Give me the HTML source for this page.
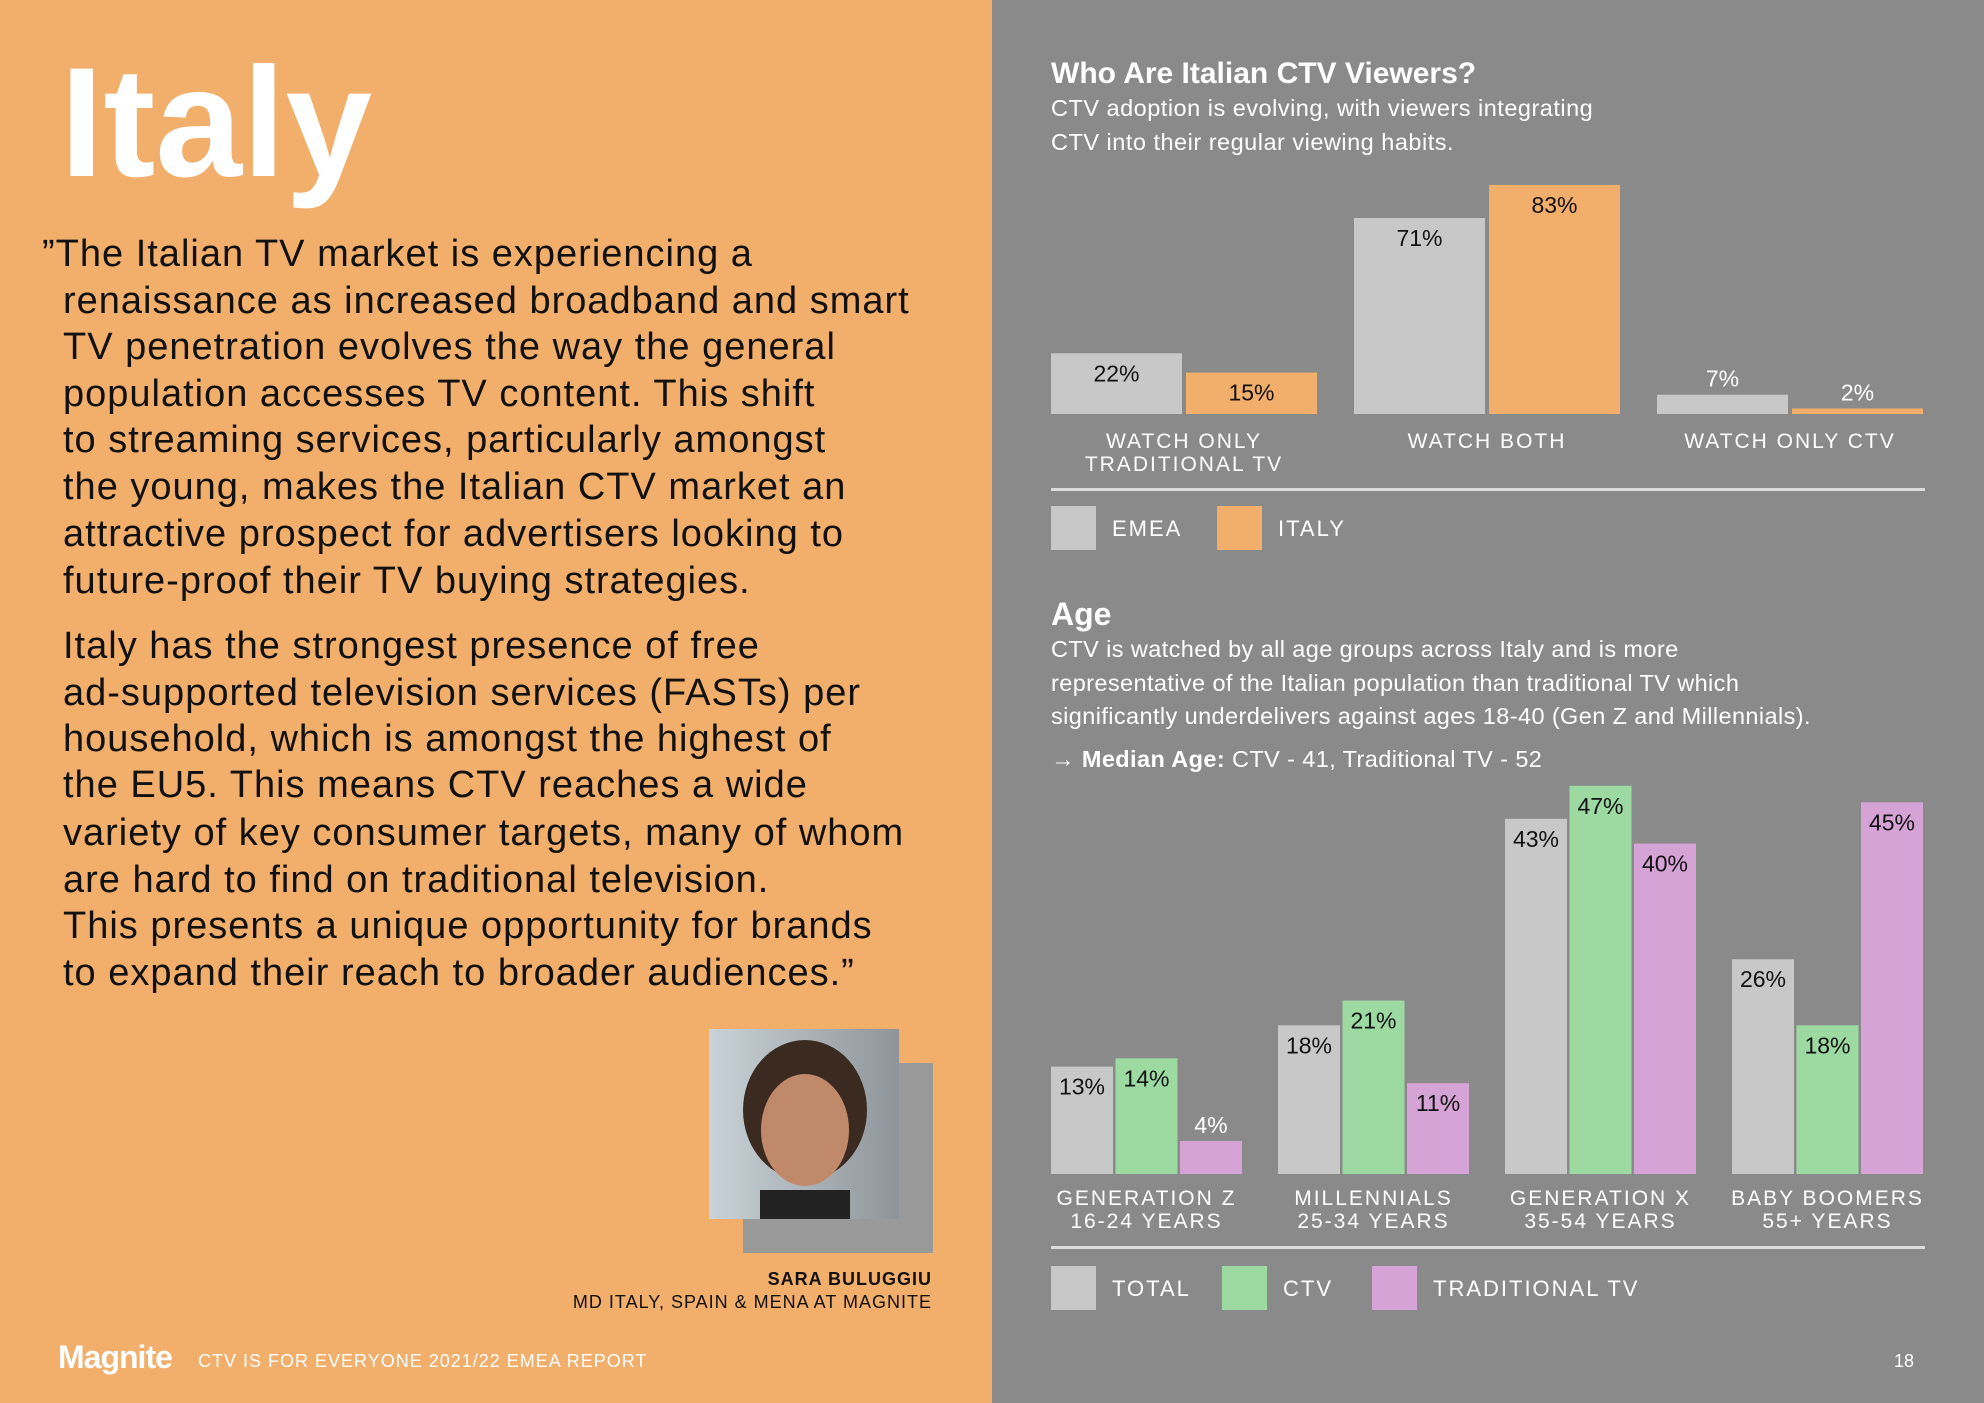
<!DOCTYPE html>
<html><head><meta charset="utf-8"><style>
html,body{margin:0;padding:0;width:1984px;height:1403px;overflow:hidden;}
svg{display:block;font-family:"Liberation Sans",sans-serif;}
</style></head><body>
<svg id="page" width="1984" height="1403" viewBox="0 0 1984 1403">
<rect x="0" y="0" width="992" height="1403" fill="#f2ae6b"/>
<rect x="992" y="0" width="992" height="1403" fill="#8a8a8a"/>
<text x="60" y="176" font-size="156" font-weight="bold" fill="#fff" letter-spacing="0">Italy</text>
<g font-size="38" fill="#111" letter-spacing="1">
<text x="42" y="266">”The Italian TV market is experiencing a</text>
<text x="63" y="313">renaissance as increased broadband and smart</text>
<text x="63" y="359">TV penetration evolves the way the general</text>
<text x="63" y="406">population accesses TV content. This shift</text>
<text x="63" y="452">to streaming services, particularly amongst</text>
<text x="63" y="499">the young, makes the Italian CTV market an</text>
<text x="63" y="546">attractive prospect for advertisers looking to</text>
<text x="63" y="593">future-proof their TV buying strategies.</text>
<text x="63" y="658">Italy has the strongest presence of free</text>
<text x="63" y="705">ad-supported television services (FASTs) per</text>
<text x="63" y="751">household, which is amongst the highest of</text>
<text x="63" y="797">the EU5. This means CTV reaches a wide</text>
<text x="63" y="845">variety of key consumer targets, many of whom</text>
<text x="63" y="892">are hard to find on traditional television.</text>
<text x="63" y="938">This presents a unique opportunity for brands</text>
<text x="63" y="985">to expand their reach to broader audiences.”</text>
</g>
<rect x="743" y="1063" width="190" height="190" fill="#9a9a9a"/>
<defs><linearGradient id="pbg" x1="0" x2="1"><stop offset="0" stop-color="#c9d3d8"/><stop offset="1" stop-color="#8e959a"/></linearGradient></defs>
<g>
<rect x="709" y="1029" width="190" height="190" fill="url(#pbg)"/>
<ellipse cx="805" cy="1110" rx="62" ry="70" fill="#3a2a20"/>
<ellipse cx="805" cy="1130" rx="44" ry="56" fill="#c08a6a"/>
<rect x="760" y="1190" width="90" height="29" fill="#222"/>
</g>
<text x="932" y="1285" font-size="18" font-weight="bold" text-anchor="end" fill="#111" letter-spacing="1">SARA BULUGGIU</text>
<text x="932" y="1308" font-size="18" text-anchor="end" fill="#111" letter-spacing="1">MD ITALY, SPAIN &amp; MENA AT MAGNITE</text>
<text x="58" y="1368" font-size="32" font-weight="bold" fill="#fff" letter-spacing="-1">Magnite</text>
<text x="198" y="1367" font-size="18" fill="#fff" letter-spacing="1">CTV IS FOR EVERYONE 2021/22 EMEA REPORT</text>
<text x="1914" y="1367" font-size="18" fill="#fff" text-anchor="end">18</text>

<text x="1051" y="83" font-size="30" font-weight="bold" fill="#fff">Who Are Italian CTV Viewers?</text>
<text x="1051" y="116" font-size="23.5" fill="#fff" letter-spacing="0.5">CTV adoption is evolving, with viewers integrating</text>
<text x="1051" y="150" font-size="23.5" fill="#fff" letter-spacing="0.5">CTV into their regular viewing habits.</text>
<g id="chart1"></g>
<rect x="1051" y="488" width="874" height="3" fill="#dcdcdc"/>
<rect x="1051" y="506" width="45" height="44" fill="#c8c8c8"/>
<text x="1112" y="536" font-size="22" fill="#fff" letter-spacing="2">EMEA</text>
<rect x="1217" y="506" width="45" height="44" fill="#f2ae6b"/>
<text x="1278" y="536" font-size="22" fill="#fff" letter-spacing="2">ITALY</text>

<text x="1051" y="625" font-size="32" font-weight="bold" fill="#fff">Age</text>
<g font-size="23.5" fill="#fff" letter-spacing="0.4">
<text x="1051" y="657">CTV is watched by all age groups across Italy and is more</text>
<text x="1051" y="691">representative of the Italian population than traditional TV which</text>
<text x="1051" y="724">significantly underdelivers against ages 18-40 (Gen Z and Millennials).</text>
<text x="1051" y="767">→ <tspan font-weight="bold">Median Age:</tspan> CTV - 41, Traditional TV - 52</text>
</g>
<g id="chart2"></g>
<rect x="1051" y="1246" width="874" height="3" fill="#dcdcdc"/>
<rect x="1051" y="1266" width="45" height="44" fill="#c8c8c8"/>
<text x="1112" y="1296" font-size="22" fill="#fff" letter-spacing="2">TOTAL</text>
<rect x="1222" y="1266" width="45" height="44" fill="#9cdaa2"/>
<text x="1283" y="1296" font-size="22" fill="#fff" letter-spacing="2">CTV</text>
<rect x="1372" y="1266" width="45" height="44" fill="#d6a3d6"/>
<text x="1433" y="1296" font-size="22" fill="#fff" letter-spacing="2">TRADITIONAL TV</text>
</svg>
<script>
const viewCats = [["WATCH ONLY","TRADITIONAL TV"],["WATCH BOTH"],["WATCH ONLY CTV"]];
const viewEmea = [22, 71, 7];
const viewItaly = [15, 83, 2];
const ageCats = [["GENERATION Z","16-24 YEARS"],["MILLENNIALS","25-34 YEARS"],["GENERATION X","35-54 YEARS"],["BABY BOOMERS","55+ YEARS"]];
const ageTotal = [13, 18, 43, 26];
const ageCtv = [14, 21, 47, 18];
const ageTrad = [4, 11, 40, 45];

const NS = "http://www.w3.org/2000/svg";
function mk(tag, attrs, parent){const e=document.createElementNS(NS,tag);for(const k in attrs)e.setAttribute(k,attrs[k]);parent.appendChild(e);return e;}

function drawChart(g, cats, series, colors, names, o){
  const y = v => o.base - v*o.scale;
  cats.forEach((cat,i)=>{
    const gx = o.x0 + i*o.step;
    series.forEach((s,j)=>{
      const bx = gx + j*(o.bw+o.gap);
      const r = mk("rect",{x:bx,y:y(s[i]),width:o.bw,height:o.base-y(s[i]),fill:colors[j]},g);
      
      
      const h = o.base-y(s[i]);
      const ty = h < 34 ? y(s[i]) - 8 : y(s[i]) + 28;
      const t = mk("text",{x:bx+o.bw/2,y:ty,"font-size":o.fs,"text-anchor":"middle",fill:h<34?"#fff":"#111"},g);
      t.textContent = s[i]+"%";
      
      
    });
    const cx = gx + (series.length*o.bw + (series.length-1)*o.gap)/2;
    cat.forEach((line,k)=>{
      const t = mk("text",{x:cx,y:o.labY+k*23,"font-size":21,"text-anchor":"middle",fill:"#fff","letter-spacing":2},g);
      t.textContent = line;
      
      
    });
  });
}
drawChart(document.getElementById('chart1'), viewCats, [viewEmea, viewItaly], ["#c8c8c8","#f2ae6b"], ["emea","italy"],
  {x0:1051, step:303, bw:131, gap:4, base:414, scale:2.76, fs:23, labY:448});
drawChart(document.getElementById('chart2'), ageCats, [ageTotal, ageCtv, ageTrad], ["#c8c8c8","#9cdaa2","#d6a3d6"], ["total","ctv","traditional"],
  {x0:1051, step:227, bw:62, gap:2.5, base:1174, scale:8.26, fs:23, labY:1205});
</script>
</body></html>
